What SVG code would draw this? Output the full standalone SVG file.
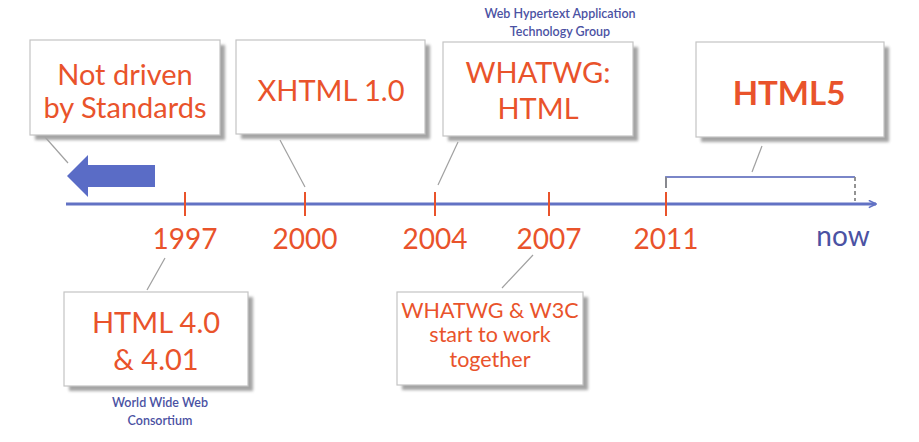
<svg xmlns="http://www.w3.org/2000/svg" width="919" height="442" viewBox="0 0 919 442">
<defs>
<filter id="sh" x="-10%" y="-10%" width="130%" height="130%"><feGaussianBlur stdDeviation="1.8"/></filter>
<marker id="ah" viewBox="0 0 10 10" refX="9" refY="5" markerWidth="9" markerHeight="9" markerUnits="userSpaceOnUse" orient="auto"><path d="M1,1 L9,5 L1,9" fill="none" stroke="#6272c4" stroke-width="1.8"/></marker>
</defs>
<style>
.box{fill:#fff;stroke:#c4c4c4;stroke-width:1.2}
.shd{fill:#a4a4a4;filter:url(#sh)}
.t{font-family:Lato,"Open Sans",sans-serif;fill:#e9532b;text-anchor:middle}
.yr{font-family:Lato,"Open Sans",sans-serif;fill:#e9532b;text-anchor:middle;font-size:28px}
.note{font-family:Lato,"Open Sans",sans-serif;fill:#4b52a3;text-anchor:middle;font-size:12.5px;font-weight:600}
.tick{stroke:#e9532b;stroke-width:2}
.lead{stroke:#a0a0a0;stroke-width:1.2;fill:none}
</style>
<rect width="919" height="442" fill="#fff"/>
<g id="connectors">
<line x1="45" y1="137" x2="68" y2="163" class="lead"/>
<line x1="280" y1="140" x2="305" y2="187" class="lead"/>
<line x1="458" y1="142" x2="438" y2="185" class="lead"/>
<line x1="762" y1="146" x2="752" y2="172" class="lead"/>
<line x1="147" y1="290" x2="165" y2="258" class="lead"/>
<line x1="502" y1="288" x2="533" y2="255" class="lead"/>
</g>
<g id="timeline">
<line x1="66" y1="204" x2="876" y2="204" stroke="#6272c4" stroke-width="2.8" marker-end="url(#ah)"/>
<line x1="185" y1="192" x2="185" y2="216" class="tick"/>
<line x1="305" y1="192" x2="305" y2="216" class="tick"/>
<line x1="435" y1="192" x2="435" y2="216" class="tick"/>
<line x1="549" y1="192" x2="549" y2="216" class="tick"/>
<line x1="666" y1="192" x2="666" y2="216" class="tick"/>
<text x="185" y="249" class="yr">1997</text>
<text x="305" y="249" class="yr">2000</text>
<text x="435" y="249" class="yr">2004</text>
<text x="549" y="249" class="yr">2007</text>
<text x="666" y="249" class="yr">2011</text>
<text x="843" y="246" class="yr" style="fill:#4b52a3">now</text>
</g>
<g id="bracket">
<path d="M666,188 L666,177 L855,177" fill="none" stroke="#7a86c8" stroke-width="1.8"/>
<line x1="666" y1="177" x2="666" y2="188" stroke="#888" stroke-width="1.8"/>
<line x1="855" y1="177" x2="855" y2="201" stroke="#888" stroke-width="1.8" stroke-dasharray="4 3"/>
</g>
<g id="past-arrow">
<path d="M155,165 L88,165 L88,155 L67,176 L88,197 L88,187 L155,187 Z" fill="#5a6cc6"/>
</g>
<g id="node-not-driven">
<rect x="35" y="45" width="190" height="95" class="shd"/>
<rect x="30" y="40" width="190" height="95" class="box"/>
<text x="125" y="85" class="t" font-size="29">Not driven</text>
<text x="125" y="118" class="t" font-size="29">by Standards</text>
</g>
<g id="node-xhtml">
<rect x="241" y="45" width="189" height="94" class="shd"/>
<rect x="236" y="40" width="189" height="94" class="box"/>
<text x="331" y="101" class="t" font-size="29">XHTML 1.0</text>
</g>
<g id="node-whatwg">
<text x="560" y="18" class="note">Web Hypertext Application</text>
<text x="560" y="36" class="note">Technology Group</text>
<rect x="448" y="47" width="190" height="94" class="shd"/>
<rect x="443" y="42" width="190" height="94" class="box"/>
<text x="538" y="83" class="t" font-size="29">WHATWG:</text>
<text x="538" y="119" class="t" font-size="29">HTML</text>
</g>
<g id="node-html5">
<rect x="701" y="47" width="188" height="95" class="shd"/>
<rect x="696" y="42" width="188" height="95" class="box"/>
<text x="789" y="105" class="t" font-size="33" font-weight="bold">HTML5</text>
</g>
<g id="node-html4">
<rect x="69" y="297" width="184" height="94" class="shd"/>
<rect x="64" y="292" width="184" height="94" class="box"/>
<text x="156" y="333" class="t" font-size="29">HTML 4.0</text>
<text x="156" y="370" class="t" font-size="29">&amp; 4.01</text>
<text x="160" y="407" class="note">World Wide Web</text>
<text x="160" y="425" class="note">Consortium</text>
</g>
<g id="node-together">
<rect x="402" y="297" width="186" height="93" class="shd"/>
<rect x="397" y="292" width="186" height="93" class="box"/>
<text x="490" y="318" class="t" font-size="21.5">WHATWG &amp; W3C</text>
<text x="490" y="342" class="t" font-size="21.5">start to work</text>
<text x="490" y="367" class="t" font-size="21.5">together</text>
</g>
</svg>
